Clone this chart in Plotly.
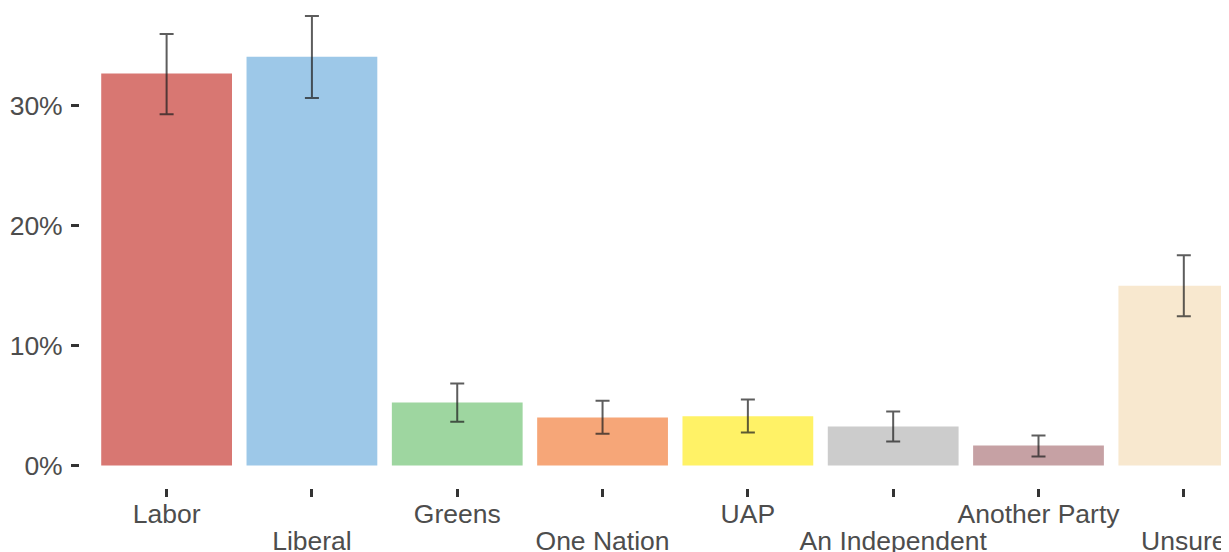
import plotly.graph_objects as go

categories = ["Labor", "Liberal", "Greens", "One Nation", "UAP",
              "An Independent", "Another Party", "Unsure"]
values = [32.7, 34.1, 5.25, 4.0, 4.1, 3.25, 1.67, 15.0]
lower = [29.3, 30.65, 3.65, 2.65, 2.75, 2.0, 0.75, 12.45]
upper = [36.0, 37.5, 6.85, 5.4, 5.5, 4.5, 2.5, 17.55]
colors = ["#D87772", "#9DC8E8", "#9ED6A0", "#F6A678", "#FFF266",
          "#CCCCCC", "#C6A1A4", "#F8E8CF"]
y_ticks = [0, 10, 20, 30]
y_ticktext = ["0%", "10%", "20%", "30%"]

err_plus = [u - v for u, v in zip(upper, values)]
err_minus = [v - l for v, l in zip(values, lower)]

font_family = "Liberation Sans, Arial, sans-serif"
label_color = "#4D4D4D"
tick_color = "#333333"
fsize = 26.5

fig = go.Figure()
fig.add_trace(go.Bar(
    x=categories, y=values, width=0.9,
    marker=dict(color=colors, line=dict(width=0)),
    error_y=dict(type="data", symmetric=False, array=err_plus,
                 arrayminus=err_minus, width=7, thickness=2,
                 color="rgba(30,30,30,0.72)"),
    showlegend=False,
))
# invisible trace so the second (label-only) x axis is drawn
fig.add_trace(go.Scatter(x=categories, y=[None] * len(categories),
                         xaxis="x2", yaxis="y", mode="markers",
                         showlegend=False, hoverinfo="skip"))

even_text = [c if i % 2 == 0 else "" for i, c in enumerate(categories)]
odd_text = [c if i % 2 == 1 else "" for i, c in enumerate(categories)]

xr = [-0.596, 7.366]
std_even = -6
fig.update_layout(
    width=1229, height=544,
    margin=dict(l=71.5, r=0, t=0, b=63.5, autoexpand=False),
    plot_bgcolor="white", paper_bgcolor="white",
    font=dict(family=font_family, size=fsize, color=label_color),
    xaxis=dict(type="category", categoryorder="array", categoryarray=categories,
               range=xr, showgrid=False, zeroline=False, showline=False,
               automargin=False,
               ticks="outside", ticklen=8, tickwidth=3, tickcolor=tick_color,
               tickvals=categories, ticktext=even_text,
               ticklabelstandoff=std_even,
               tickfont=dict(size=fsize, color=label_color)),
    xaxis2=dict(type="category", categoryorder="array", categoryarray=categories,
                overlaying="x", matches="x", anchor="y", side="bottom",
                range=xr, showgrid=False, zeroline=False, showline=False,
                automargin=False,
                ticks="outside", ticklen=8, tickwidth=3, tickcolor="rgba(0,0,0,0)",
                tickvals=categories, ticktext=odd_text,
                ticklabelstandoff=std_even + 27,
                tickfont=dict(size=fsize, color=label_color)),
    yaxis=dict(range=[-1.875, 38.1667], showgrid=False, zeroline=False,
               showline=False, automargin=False,
               ticks="outside", ticklen=8, tickwidth=3,
               tickcolor=tick_color, tickvals=y_ticks, ticktext=y_ticktext,
               ticklabelstandoff=3,
               tickfont=dict(size=fsize, color=label_color)),
    bargap=0.1,
)

fig.write_html("out.html")
